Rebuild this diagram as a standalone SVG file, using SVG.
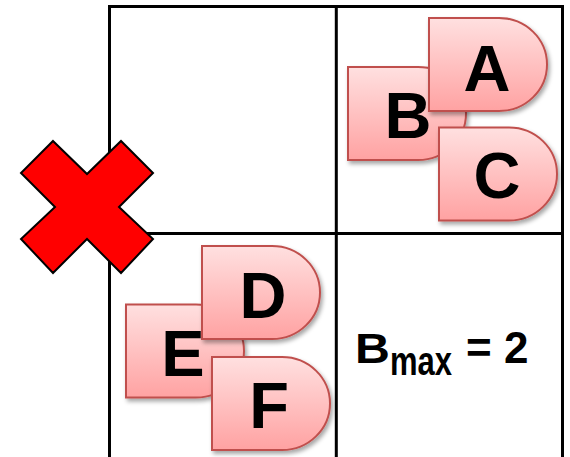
<svg xmlns="http://www.w3.org/2000/svg" xmlns:xlink="http://www.w3.org/1999/xlink" width="570" height="457" viewBox="0 0 570 457">
<style>
.grid{stroke:#000;stroke-width:3;fill:none}
.gate{fill:url(#pink);stroke:#C0504D;stroke-width:2;filter:url(#sh)}
.lbl{font-family:"Liberation Sans",Arial,sans-serif;font-weight:bold;font-size:65px;fill:#000;text-anchor:middle}
.eq{font-family:"Liberation Sans",Arial,sans-serif;font-weight:bold;fill:#000}
</style>
<defs>
<linearGradient id="pink" x1="0" y1="0" x2="0" y2="1">
<stop offset="0" stop-color="#FFE0E0"/>
<stop offset="1" stop-color="#FFA2A2"/>
</linearGradient>
<filter id="sh" x="-10%" y="-10%" width="130%" height="130%">
<feDropShadow dx="2" dy="3" stdDeviation="2" flood-color="#000" flood-opacity="0.35"/>
</filter>
<path id="gate" d="M0,0 H70 A48 46.5 0 0 1 70,93 H0 Z"/>
</defs>
<g id="connectors">
<path class="grid" d="M109.5,457 V6.5 H562.5 V457 M336.3,6.5 V457 M109.5,233.5 H562.5"/>
</g>
<g id="cross">
<polygon points="53,141 87,174 121,141 153,173 119,207 153,239 121,273 87,239 53,273 21,239 55,207 21,173" fill="#FF0000" stroke="#000" stroke-width="2" stroke-linejoin="miter"/>
</g>
<g id="B"><use xlink:href="#gate" href="#gate" class="gate" x="348" y="67"/><text class="lbl" x="408" y="138">B</text></g>
<g id="A"><use xlink:href="#gate" href="#gate" class="gate" x="429" y="18"/><text class="lbl" x="487" y="91">A</text></g>
<g id="C"><use xlink:href="#gate" href="#gate" class="gate" x="439" y="127.5"/><text class="lbl" x="497" y="198">C</text></g>
<g id="E"><use xlink:href="#gate" href="#gate" class="gate" x="126" y="304.5"/><text class="lbl" x="183" y="376">E</text></g>
<g id="D"><use xlink:href="#gate" href="#gate" class="gate" x="202" y="246"/><text class="lbl" x="263" y="318">D</text></g>
<g id="F"><use xlink:href="#gate" href="#gate" class="gate" x="212" y="357"/><text class="lbl" x="269" y="428">F</text></g>
<g id="bmax">
<text class="eq" font-size="42" transform="translate(355,363) scale(1.15,1)">B</text>
<text class="eq" font-size="31" transform="translate(390,375) scale(1,1.3)">max</text>
<text class="eq" x="466" y="363" font-size="44">= 2</text>
</g>
</svg>
